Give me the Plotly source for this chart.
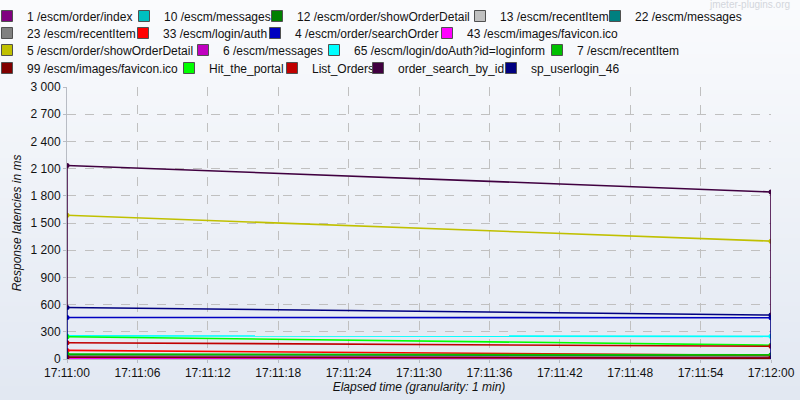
import base64, struct, zlib
import plotly.graph_objects as go

# ---------------- data ----------------
times = ["2013-01-01 17:11:00", "2013-01-01 17:12:00"]
series_names = [
    "1 /escm/order/index", "10 /escm/messages", "12 /escm/order/showOrderDetail",
    "13 /escm/recentItem", "22 /escm/messages",
    "23 /escm/recentItem", "33 /escm/login/auth", "4 /escm/order/searchOrder",
    "43 /escm/images/favicon.ico",
    "5 /escm/order/showOrderDetail", "6 /escm/messages",
    "65 /escm/login/doAuth?id=loginform", "7 /escm/recentItem",
    "99 /escm/images/favicon.ico", "Hit_the_portal", "List_Orders",
    "order_search_by_id", "sp_userlogin_46",
]
series_values = [
    [15, 10], [20, 15], [45, 40],
    [25, 20], [20, 15],
    [30, 25], [95, 40], [458, 455],
    [10, 8],
    [1585, 1300], [20, 15],
    [255, 250], [55, 45],
    [20, 10], [245, 152], [180, 140],
    [2135, 1842], [568, 485],
]
series_colors = [
    "#800080", "#00c0c0", "#008000", "#c0c0c0", "#008080",
    "#808080", "#ff0000", "#0000c0", "#ff00ff",
    "#c0c000", "#c000c0", "#00ffff", "#00c000",
    "#800000", "#00ff00", "#c00000", "#400040", "#000080",
]
legend_rows = [5, 4, 4, 5]  # items per legend row
y_ticks = list(range(0, 3001, 300))

# ---------------- layout constants ----------------
W, H = 800, 400
ML, MR, MT, MB = 67, 29, 87, 41
PW, PH = W - ML - MR, H - MT - MB

# legend entry x positions (px, left edge of colour square) per row, and row centre y
legend_square_x = [
    [9, 146, 279, 482, 617],
    [9, 145, 277, 449],
    [9, 205, 336, 559],
    [9, 191, 294, 380, 513],
]
row_y_px = [16, 33, 50, 68]


def gradient_png(h, top, bot):
    raw = b""
    for i in range(h):
        t = i / (h - 1)
        c = bytes(round(top[k] + (bot[k] - top[k]) * t) for k in range(3))
        raw += b"\x00" + c + c
    def chunk(tag, data):
        return struct.pack(">I", len(data)) + tag + data + struct.pack(">I", zlib.crc32(tag + data) & 0xffffffff)
    png = b"\x89PNG\r\n\x1a\n"
    png += chunk(b"IHDR", struct.pack(">IIBBBBB", 2, h, 8, 2, 0, 0, 0))
    png += chunk(b"IDAT", zlib.compress(raw))
    png += chunk(b"IEND", b"")
    return "data:image/png;base64," + base64.b64encode(png).decode()


fig = go.Figure()

legend_ids = ["legend", "legend2", "legend3", "legend4"]
item_legend, item_width = [], []
for r, n in enumerate(legend_rows):
    xs = legend_square_x[r]
    for k in range(n):
        item_legend.append(legend_ids[r])
        item_width.append(xs[k + 1] - xs[k] - 45 if k < n - 1 else None)

for name, vals, col in zip(series_names, series_values, series_colors):
    fig.add_trace(go.Scatter(
        x=times, y=vals, mode="lines+markers", name=name,
        line=dict(color=col, width=1.6), marker=dict(color=col, size=5),
        showlegend=False, legendgroup=name, hoverinfo="skip",
    ))

# vertical connectors at each time (drawn from series values)
ob = series_values[series_names.index("order_search_by_id")]
sp = series_values[series_names.index("sp_userlogin_46")]
for j, t in enumerate(times):
    fig.add_trace(go.Scatter(x=[t, t], y=[ob[j], sp[j]], mode="lines",
                             line=dict(color="#400040", width=1.6), showlegend=False, hoverinfo="skip"))
    fig.add_trace(go.Scatter(x=[t, t], y=[sp[j], 0], mode="lines",
                             line=dict(color="#000080", width=1.6), showlegend=False, hoverinfo="skip"))

# legend entries
for i, (name, col) in enumerate(zip(series_names, series_colors)):
    kw = {}
    if item_width[i] is not None:
        kw["legendwidth"] = item_width[i]
    fig.add_trace(go.Scatter(
        x=[None], y=[None], mode="markers", name=name, legend=item_legend[i],
        marker=dict(symbol="square", size=11, color=col, line=dict(color="#505050", width=1)),
        legendgroup=name, **kw,
    ))

legend_common = dict(orientation="h", xanchor="left", yanchor="middle", borderwidth=0,
                     bgcolor="rgba(0,0,0,0)",
                     font=dict(family="Liberation Sans, Arial", size=12, color="#111"),
                     itemclick=False, itemdoubleclick=False, tracegroupgap=0)
legends = {}
for r, lid in enumerate(legend_ids):
    legends[lid] = dict(legend_common, x=(-ML - 13) / PW, y=1 + (MT - row_y_px[r]) / PH)

fig.update_layout(
    width=W, height=H,
    margin=dict(l=ML, r=MR, t=MT, b=MB, autoexpand=False),
    paper_bgcolor="#eef1f7", plot_bgcolor="rgba(0,0,0,0)",
    separators=". ",
    font=dict(family="Liberation Sans, Arial", size=12, color="#111"),
    images=[dict(source=gradient_png(100, (250, 251, 253), (226, 232, 242)),
                 xref="paper", yref="paper", x=-ML / PW, y=1 + MT / PH,
                 sizex=W / PW, sizey=H / PH, sizing="stretch", layer="below",
                 xanchor="left", yanchor="top")],
    xaxis=dict(type="date", range=[times[0], times[1]], dtick=6000, tick0=times[0],
               tickformat="%H:%M:%S", showgrid=True, gridcolor="#c0c0c0", griddash="dash",
               gridwidth=1, showline=True, linecolor="#b8bcc4", ticks="outside", ticklen=3,
               tickcolor="#b8bcc4", zeroline=False, automargin=False,
               title=dict(text="<i>Elapsed time (granularity: 1 min)</i>", standoff=2,
                          font=dict(size=12))),
    yaxis=dict(range=[0, 3000], tickvals=y_ticks, separatethousands=True, tickformat=",d",
               showgrid=True, gridcolor="#c0c0c0", griddash="dash", gridwidth=1,
               showline=True, linecolor="#b8bcc4", ticks="outside", ticklen=3, tickcolor="#b8bcc4",
               zeroline=False, automargin=False,
               title=dict(text="<i>Response latencies in ms</i>", standoff=6, font=dict(size=12))),
    annotations=[dict(text="jmeter-plugins.org", xref="paper", yref="paper",
                      x=(W - ML - 8) / PW, y=1 + (MT - 4) / PH, xanchor="right", yanchor="middle",
                      showarrow=False, font=dict(size=10, color="#d3d6dc"))],
    **legends,
)

fig.write_html("out.html", config={"displayModeBar": False},
               post_script="document.body.style.margin='0';")
